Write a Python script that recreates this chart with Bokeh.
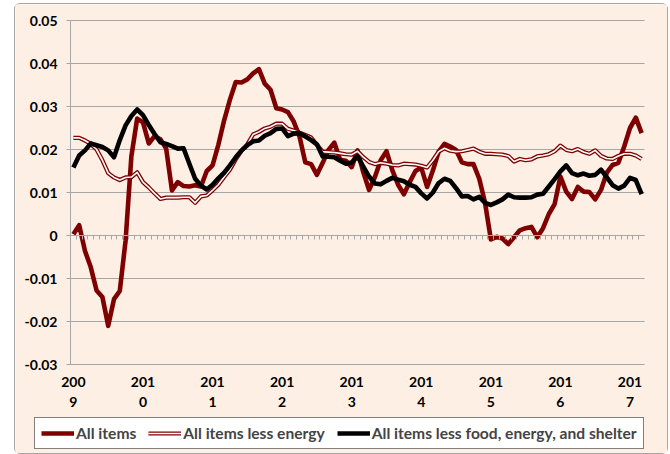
from bokeh.plotting import figure
from bokeh.models import FixedTicker, Legend, LegendItem, ColumnDataSource, LinearAxis
from bokeh.embed import file_html
from bokeh.resources import INLINE

# ---------------- data ----------------
months = [f"{y}-{m:02d}" for y in range(2009, 2018) for m in range(1, 13)][:99]

all_items = [
    0.0003, 0.0024, -0.0036, -0.0074, -0.0128, -0.0143, -0.0210, -0.0148, -0.0129, -0.0012, 0.0184, 0.0272,
    0.0263, 0.0214, 0.0231, 0.0224, 0.0202, 0.0105, 0.0124, 0.0115, 0.0114, 0.0117, 0.0114, 0.0150,
    0.0163, 0.0211, 0.0268, 0.0316, 0.0357, 0.0356, 0.0363, 0.0377, 0.0387, 0.0353, 0.0339, 0.0296,
    0.0293, 0.0287, 0.0265, 0.0230, 0.0170, 0.0166, 0.0141, 0.0169, 0.0199, 0.0216, 0.0176, 0.0174,
    0.0159, 0.0198, 0.0147, 0.0106, 0.0136, 0.0175, 0.0196, 0.0152, 0.0118, 0.0096, 0.0124, 0.0150,
    0.0158, 0.0113, 0.0151, 0.0195, 0.0213, 0.0207, 0.0199, 0.0170, 0.0166, 0.0166, 0.0132, 0.0076,
    -0.0009, -0.0003, -0.0007, -0.0020, -0.0004, 0.0012, 0.0017, 0.0020, -0.0004, 0.0017, 0.0050, 0.0073,
    0.0137, 0.0102, 0.0085, 0.0113, 0.0102, 0.0101, 0.0084, 0.0106, 0.0146, 0.0164, 0.0169, 0.0207,
    0.0250, 0.0274, 0.0238,
]

less_energy = [
    0.0227, 0.0227, 0.0221, 0.0213, 0.0200, 0.0175, 0.0145, 0.0135, 0.0129, 0.0135, 0.0136, 0.0147,
    0.0124, 0.0112, 0.0098, 0.0085, 0.0088, 0.0088, 0.0088, 0.0089, 0.0089, 0.0076, 0.0091, 0.0093,
    0.0105, 0.0118, 0.0136, 0.0153, 0.0177, 0.0197, 0.0212, 0.0235, 0.0241, 0.0249, 0.0253, 0.0260,
    0.0260, 0.0248, 0.0244, 0.0239, 0.0234, 0.0228, 0.0211, 0.0195, 0.0194, 0.0193, 0.0191, 0.0189,
    0.0188, 0.0196, 0.0182, 0.0171, 0.0166, 0.0169, 0.0167, 0.0164, 0.0163, 0.0167, 0.0166, 0.0165,
    0.0162, 0.0158, 0.0175, 0.0195, 0.0203, 0.0197, 0.0195, 0.0196, 0.0199, 0.0202, 0.0195, 0.0190,
    0.0190, 0.0189, 0.0188, 0.0185, 0.0172, 0.0178, 0.0175, 0.0177, 0.0184, 0.0186, 0.0189, 0.0196,
    0.0209, 0.0199, 0.0196, 0.0201, 0.0194, 0.0190, 0.0198, 0.0185, 0.0179, 0.0178, 0.0185, 0.0190,
    0.0190, 0.0186, 0.0178,
]

less_food_energy_shelter = [
    0.0158, 0.0186, 0.0198, 0.0214, 0.0210, 0.0206, 0.0198, 0.0182, 0.0222, 0.0256, 0.0278, 0.0293,
    0.0280, 0.0257, 0.0236, 0.0217, 0.0213, 0.0208, 0.0202, 0.0203, 0.0167, 0.0132, 0.0116, 0.0107,
    0.0118, 0.0133, 0.0146, 0.0163, 0.0182, 0.0198, 0.0210, 0.0219, 0.0221, 0.0232, 0.0238, 0.0248,
    0.0249, 0.0231, 0.0237, 0.0238, 0.0230, 0.0222, 0.0212, 0.0184, 0.0183, 0.0182, 0.0174, 0.0167,
    0.0170, 0.0184, 0.0160, 0.0137, 0.0121, 0.0119, 0.0127, 0.0134, 0.0130, 0.0126, 0.0118, 0.0113,
    0.0098, 0.0086, 0.0100, 0.0122, 0.0132, 0.0127, 0.0110, 0.0091, 0.0092, 0.0084, 0.0090, 0.0076,
    0.0071, 0.0077, 0.0084, 0.0095, 0.0089, 0.0088, 0.0088, 0.0089, 0.0095, 0.0097, 0.0114, 0.0131,
    0.0149, 0.0163, 0.0145, 0.0140, 0.0144, 0.0139, 0.0141, 0.0153, 0.0135, 0.0117, 0.0109, 0.0116,
    0.0134, 0.0129, 0.0096,
]

year_labels = ["2009", "2010", "2011", "2012", "2013", "2014", "2015", "2016", "2017"]
ytick_values = [-0.03, -0.02, -0.01, 0.0, 0.01, 0.02, 0.03, 0.04, 0.05]
ytick_labels = ["-0.03", "-0.02", "-0.01", "0", "0.01", "0.02", "0.03", "0.04", "0.05"]
series_names = ["All items", "All items less energy", "All items less food, energy, and shelter"]

# ---------------- style / layout (pixels) ----------------
BG = "#FDEFE3"
GRID = "#A6A6A6"
DARKRED = "#7F0000"
FONT = "Lato"

W, H = 652, 449                  # figure size (whole chart area)
PLOT_L, PLOT_R = 55, 629         # plot area edges inside the figure (px)
PLOT_T, PLOT_B = 16, 360

n = len(months)
ymin, ymax = ytick_values[0], ytick_values[-1]
px_per_x = (PLOT_R - PLOT_L) / n
px_per_y = (PLOT_B - PLOT_T) / (ymax - ymin)
x_lo = -0.5 - PLOT_L / px_per_x
x_hi = n - 0.5 + (W - PLOT_R) / px_per_x
y_lo = ymin - (H - PLOT_B) / px_per_y
y_hi = ymax + PLOT_T / px_per_y

xs = list(range(n))
src = ColumnDataSource(dict(x=xs, a=all_items, e=less_energy, c=less_food_energy_shelter))

p = figure(width=W, height=H, x_range=(x_lo, x_hi), y_range=(y_lo, y_hi),
           output_backend="svg", toolbar_location=None,
           min_border_left=0, min_border_right=0, min_border_top=0, min_border_bottom=0,
           background_fill_color=BG, border_fill_color=BG, outline_line_color=None)
p.margin = (4, 0, 0, 15)
p.styles = {"outline": "1px solid #A6A6A6", "border-radius": "5px"}
p.xgrid.visible = False
p.ygrid.visible = False

# horizontal gridlines across the plot area
p.segment(x0=[-0.5] * len(ytick_values), x1=[n - 0.5] * len(ytick_values),
          y0=ytick_values, y1=ytick_values, line_color=GRID, line_width=1)

# y axis drawn at the left edge of the plot area
p.yaxis.fixed_location = -0.5
p.yaxis.bounds = (ymin, ymax)
p.yaxis.ticker = FixedTicker(ticks=ytick_values)
p.yaxis.major_label_overrides = {v: s for v, s in zip(ytick_values, ytick_labels)}
p.yaxis.axis_line_color = GRID
p.yaxis.major_tick_line_color = GRID
p.yaxis.major_tick_out = 4
p.yaxis.major_tick_in = 0
p.yaxis.minor_tick_line_color = None
p.yaxis.major_label_standoff = 9
p.yaxis.major_label_text_font = FONT
p.yaxis.major_label_text_font_style = "bold"
p.yaxis.major_label_text_font_size = "14px"
p.yaxis.major_label_text_color = "black"

# x axis: year labels (wrapped like the original) below the plot area
year_pos = [months.index(y + "-01") for y in year_labels]
p.xaxis.fixed_location = ymin
p.xaxis.ticker = FixedTicker(ticks=year_pos)
p.xaxis.major_label_overrides = {pos: y[:3] + "\n" + y[3:] for pos, y in zip(year_pos, year_labels)}
p.xaxis.axis_line_color = None
p.xaxis.major_tick_line_color = None
p.xaxis.minor_tick_line_color = None
p.xaxis.major_tick_out = 0
p.xaxis.major_label_standoff = 8
p.xaxis.major_label_text_font = FONT
p.xaxis.major_label_text_font_style = "bold"
p.xaxis.major_label_text_font_size = "14px"
p.xaxis.major_label_text_color = "black"

# category axis on the zero line with a tick between months
zero_axis = LinearAxis(fixed_location=0, bounds=(-0.5, n - 0.5),
                       ticker=FixedTicker(ticks=[i + 0.5 for i in range(n - 1)]),
                       axis_line_color=GRID, major_tick_line_color=GRID,
                       major_tick_out=4, major_tick_in=0, minor_tick_line_color=None,
                       major_label_text_color=None, major_label_text_font_size="1px")
p.add_layout(zero_axis, "below")

# series
r1 = p.line("x", "a", source=src, line_color=DARKRED, line_width=4.6, line_join="round")
r2a = p.line("x", "e", source=src, line_color=DARKRED, line_width=4.2, line_join="round")
r2b = p.line("x", "e", source=src, line_color="white", line_width=1.6, line_join="round")
r3 = p.line("x", "c", source=src, line_color="black", line_width=4.6, line_join="round")

legend = Legend(items=[LegendItem(label=series_names[0], renderers=[r1]),
                       LegendItem(label=series_names[1], renderers=[r2a, r2b]),
                       LegendItem(label=series_names[2], renderers=[r3])],
                location=(19, 4), orientation="horizontal",
                background_fill_color="white", background_fill_alpha=1,
                border_line_color="black", border_line_width=1,
                label_text_font=FONT, label_text_font_style="bold", label_text_font_size="15.6px",
                glyph_width=33, glyph_height=18, label_height=18, label_standoff=2,
                spacing=12, padding=6, margin=0)
p.add_layout(legend)

open("out.html", "w").write(file_html(p, INLINE))
